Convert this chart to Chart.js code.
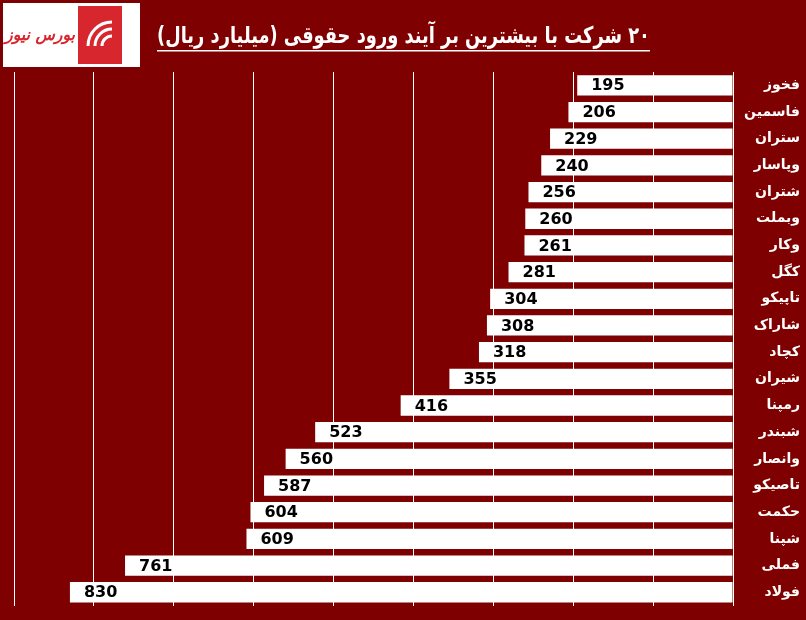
<!DOCTYPE html>
<html><head><meta charset="utf-8">
<script src="https://cdn.jsdelivr.net/npm/chart.js@4/dist/chart.umd.min.js"></script>
<style>html,body{margin:0;padding:0;background:#7f0000;}#wrap{position:relative;width:806px;height:620px;}</style>
</head><body><div id="wrap"><canvas id="c" width="806" height="620"></canvas></div>
<script>
const categories=["فخوز","فاسمین","ستران","وپاسار","شتران","وبملت","وکار","کگل","تاپیکو","شاراک","کچاد","شیران","رمپنا","شبندر","وانصار","تاصیکو","حکمت","شپنا","فملی","فولاد"];
const values=[195,206,229,240,256,260,261,281,304,308,318,355,416,523,560,587,604,609,761,830];
const titleText="۲۰ شرکت با بیشترین بر آیند ورود حقوقی (میلیارد ریال)";

const deco={id:'deco',beforeDraw(ch){const c=ch.ctx;c.save();c.fillStyle='#7f0000';c.fillRect(0,0,ch.width,ch.height);
 c.fillStyle='#fff';c.fillRect(3,3,137,64);
 c.fillStyle='#d8262e';c.fillRect(78,6,44,58);
 c.strokeStyle='#fff';c.lineWidth=3;
 for(let i=0;i<3;i++){c.beginPath();c.arc(112,46,10+i*7,Math.PI,1.5*Math.PI);c.stroke();}
 c.fillStyle='#d8262e';c.font='italic bold 16px "DejaVu Sans"';c.textAlign='center';c.textBaseline='middle';c.direction='rtl';
 c.fillText('بورس نیوز',40,36,70);
 c.fillStyle='#fff';c.font='bold 23px "DejaVu Sans"';c.textAlign='right';c.textBaseline='alphabetic';
 c.fillText(titleText,650,43,493);
 c.fillRect(157,50,493,1.5);
 c.restore();},
 afterDatasetsDraw(ch){const c=ch.ctx;const m=ch.getDatasetMeta(0);c.save();c.fillStyle='#000';c.font='bold 16px "DejaVu Sans"';c.textBaseline='middle';c.textAlign='left';
 m.data.forEach((b,i)=>{c.fillText(String(values[i]),b.x+14,b.y+1);});c.restore();}};

new Chart(document.getElementById('c'),{type:'bar',
 data:{labels:categories,datasets:[{data:values,backgroundColor:'#ffffff',borderWidth:0,barPercentage:0.76,categoryPercentage:1}]},
 options:{indexAxis:'y',responsive:false,animation:false,
  layout:{padding:{top:72,left:14,right:6,bottom:14}},
  plugins:{legend:{display:false},tooltip:{enabled:false}},
  scales:{
   x:{reverse:true,min:0,max:900,ticks:{display:false,stepSize:100},grid:{color:'#ffffff',lineWidth:1,drawTicks:false},border:{display:false}},
   y:{position:'right',grid:{display:false},border:{display:false},
      ticks:{color:'#fff',font:{family:'DejaVu Sans',size:14,weight:'bold'},crossAlign:'far',padding:6},
      afterFit(s){s.width=67;}}
  }},plugins:[deco]});
</script></body></html>
